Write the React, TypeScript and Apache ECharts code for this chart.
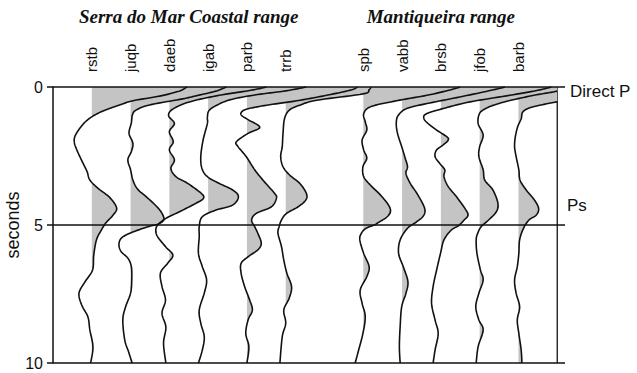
import { useEffect, useRef } from "react";
import * as echarts from "echarts";

// Station names and their column positions (column 7 is the gap between the two ranges)
const stations = ["rstb", "juqb", "daeb", "igab", "parb", "trrb", "spb", "vabb", "brsb", "jfob", "barb"];
const stationSlots = [1, 2, 3, 4, 5, 6, 8, 9, 10, 11, 12];

const rangeTitles = ["Serra do Mar Coastal range", "Mantiqueira range"];
const rangeCentres = [3.5, 10];

const timeTicks = [0, 5, 10];
const phaseLabels = ["Direct P", "Ps"];
const phaseTimes = [0.15, 4.3];

const FRAME_X = 13;
const X_MAX = 13.2;

// Receiver functions: [time (s), amplitude (column widths)]
const rstb: [number, number][] = [
  [0, 2.45], [0.15, 2.25], [0.33, 1.75], [0.5, 1.06], [0.69, 0.64], [0.87, 0.29], [1.08, 0], [1.34, -0.22],
  [1.74, -0.42], [2.0, -0.45], [2.3, -0.38], [2.75, -0.23], [3.07, -0.12], [3.37, -0.05], [3.67, 0.16],
  [4.0, 0.46], [4.38, 0.64], [4.64, 0.55], [4.93, 0.36], [5.2, 0.24], [5.54, 0.12], [6.1, 0.05], [6.63, 0.02],
  [7.07, -0.18], [7.47, -0.33], [7.9, -0.26], [8.33, -0.1], [8.8, -0.05], [9.42, 0.03], [10, -0.03],
];
const juqb: [number, number][] = [
  [0, 2.47], [0.15, 2.2], [0.3, 1.75], [0.43, 1.34], [0.65, 0.49], [0.83, 0.15], [1.0, 0.05], [1.3, 0.02],
  [1.68, -0.04], [2.04, 0.06], [2.34, 0.02], [2.64, -0.07], [3.0, 0], [3.37, 0.06], [3.7, 0.18], [3.97, 0.4],
  [4.4, 0.72], [4.7, 0.85], [4.85, 0.84], [4.97, 0.7], [5.08, 0.41], [5.3, -0.02], [5.48, -0.24], [5.72, -0.3],
  [5.97, -0.24], [6.2, -0.07], [6.51, 0.02], [7.0, 0.03], [7.47, 0], [7.97, -0.13], [8.44, -0.2], [9.17, -0.15],
  [9.6, -0.05], [10, 0.04],
];
const daeb: [number, number][] = [
  [0, 2.5], [0.12, 2.1], [0.3, 1.29], [0.54, 0.52], [0.8, 0.09], [1.04, -0.02], [1.32, 0.13], [1.62, 0],
  [1.98, 0.1], [2.28, 0], [2.64, 0.13], [2.95, 0.04], [3.25, 0.17], [3.49, 0.47], [3.85, 0.82], [4.03, 0.88],
  [4.21, 0.69], [4.52, 0.26], [4.76, -0.09], [5.0, -0.3], [5.2, -0.35], [5.43, -0.3], [5.8, -0.09], [6.09, 0.09],
  [6.38, -0.04], [6.74, -0.23], [7.23, -0.19], [7.72, -0.1], [8.2, -0.19], [8.7, -0.09], [9.28, -0.15], [10, -0.09],
];
const igab: [number, number][] = [
  [0, 2.53], [0.14, 2.0], [0.29, 1.2], [0.45, 0.6], [0.62, 0.28], [0.84, 0.03], [1.1, -0.02], [1.32, -0.02],
  [1.92, -0.13], [2.52, -0.19], [2.95, -0.16], [3.25, -0.02], [3.49, 0.28], [3.73, 0.63], [3.97, 0.78],
  [4.28, 0.63], [4.46, 0.2], [4.7, -0.15], [5.06, -0.23], [5.42, -0.23], [6.03, -0.25], [6.51, -0.15],
  [6.99, -0.04], [7.47, -0.1], [8.08, -0.23], [8.56, -0.19], [9.05, -0.1], [9.53, -0.15], [10, -0.25],
];
const parb: [number, number][] = [
  [0, 2.85], [0.1, 2.7], [0.25, 2.23], [0.48, 1.37], [0.66, 0.51], [0.8, 0], [0.93, -0.15], [1.05, -0.12],
  [1.2, 0.05], [1.46, 0.33], [1.68, 0.03], [1.98, -0.27], [2.16, -0.23], [2.52, -0.02], [3.0, 0.2], [3.37, 0.41],
  [3.85, 0.71], [4.03, 0.76], [4.34, 0.63], [4.58, 0.24], [4.82, 0.12], [5.06, 0.2], [5.3, 0.28], [5.66, 0.37],
  [5.9, 0.28], [6.15, 0.03], [6.39, -0.15], [6.75, -0.15], [7.23, -0.06], [7.72, 0.07], [8.08, 0.14],
  [8.44, 0.03], [8.93, -0.03], [9.41, 0.05], [10, 0],
];
const trrb: [number, number][] = [
  [0, 2.2], [0.1, 2.15], [0.25, 1.99], [0.48, 0.8], [0.65, 0.38], [0.83, 0.1], [1.14, -0.03], [1.68, -0.07],
  [2.16, -0.09], [2.52, -0.13], [2.89, -0.07], [3.19, 0.1], [3.49, 0.36], [3.85, 0.53], [4.09, 0.52],
  [4.34, 0.32], [4.58, 0.02], [4.82, -0.11], [5.06, -0.17], [5.3, -0.2], [5.78, -0.11], [6.27, -0.05],
  [6.75, 0.03], [7.23, 0.15], [7.65, 0.09], [8.08, -0.05], [8.56, 0], [9.05, -0.09], [10, -0.15],
];
const spb: [number, number][] = [
  [0, 2.5], [0.12, 2.2], [0.3, 1.64], [0.52, 0.78], [0.72, 0.18], [0.97, 0.01], [1.26, 0.05], [1.56, 0.09],
  [1.92, -0.03], [2.28, 0.01], [2.58, 0.09], [2.89, -0.01], [3.25, 0.01], [3.55, 0.18], [3.91, 0.44],
  [4.28, 0.65], [4.52, 0.7], [4.72, 0.6], [4.9, 0.4], [5.0, 0.28], [5.12, 0.07], [5.3, -0.05], [5.54, -0.09],
  [6.03, 0.01], [6.51, 0.15], [6.87, 0.09], [7.36, -0.08], [7.84, -0.03], [8.32, 0.05], [8.93, -0.01],
  [9.53, -0.12], [10, -0.21],
];
const vabb: [number, number][] = [
  [0, 2.65], [0.12, 2.3], [0.36, 1.49], [0.6, 0.64], [0.78, 0.12], [1.03, -0.1], [1.3, -0.15], [1.6, -0.13],
  [1.87, -0.08], [2.16, -0.01], [2.58, 0.08], [2.89, 0.14], [3.13, 0.1], [3.49, 0.21], [3.85, 0.38],
  [4.28, 0.55], [4.52, 0.59], [4.72, 0.52], [4.9, 0.36], [5.12, 0.14], [5.54, -0.05], [6.03, -0.09],
  [6.51, 0.03], [7.05, 0.15], [7.47, 0.1], [7.96, -0.01], [8.68, -0.05], [9.41, -0.07], [10, -0.05],
];
const brsb: [number, number][] = [
  [0, 2.85], [0.12, 2.5], [0.3, 1.78], [0.54, 0.75], [0.78, 0.06], [0.97, -0.37], [1.12, -0.44], [1.3, -0.35],
  [1.56, -0.11], [1.8, 0.15], [1.92, 0.19], [2.1, 0.06], [2.28, -0.11], [2.52, -0.15], [2.77, -0.03], [3.0, 0.1],
  [3.25, 0.08], [3.61, 0.19], [3.97, 0.4], [4.4, 0.62], [4.64, 0.7], [4.82, 0.6], [5.03, 0.45], [5.18, 0.27],
  [5.54, 0.08], [6.03, -0.01], [6.63, -0.11], [7.23, -0.2], [7.84, -0.24], [8.44, -0.15], [8.93, -0.07],
  [9.53, -0.15], [10, -0.2],
];
const jfob: [number, number][] = [
  [0, 2.4], [0.15, 2.0], [0.3, 1.4], [0.5, 0.75], [0.65, 0.38], [0.77, 0.17], [0.95, 0], [1.32, -0.04],
  [1.74, 0.09], [2.16, 0], [2.52, -0.02], [3.0, 0.09], [3.37, 0.13], [3.73, 0.34], [4.21, 0.47], [4.52, 0.43],
  [4.82, 0.23], [5.06, 0.04], [5.3, -0.05], [5.54, -0.09], [6.03, -0.07], [6.63, 0.02], [6.99, 0.09],
  [7.47, -0.02], [7.96, -0.1], [8.44, -0.02], [8.8, 0.09], [9.41, -0.04], [10, -0.09],
];
const barb: [number, number][] = [
  [0, 2.6], [0.2, 2.0], [0.4, 1.4], [0.54, 0.98], [0.64, 0.62], [0.76, 0.28], [0.91, 0.11], [1.15, 0.07],
  [1.44, -0.02], [1.8, -0.08], [2.16, -0.1], [2.52, -0.06], [3.0, 0.01], [3.37, 0.04], [3.73, 0.2], [4.09, 0.41],
  [4.4, 0.52], [4.64, 0.46], [4.82, 0.27], [5.12, 0.13], [5.54, 0.03], [6.03, 0.01], [6.51, -0.03], [6.99, -0.1],
  [7.47, -0.06], [7.96, 0.03], [8.44, -0.03], [8.93, 0.01], [9.53, 0.07], [10, 0.09],
];

const traces = [rstb, juqb, daeb, igab, parb, trrb, spb, vabb, brsb, jfob, barb];

const INK = "#111";
const FILL = "#c4c4c4";
const SANS = "Liberation Sans, Arial, sans-serif";

// Catmull-Rom curve through the pixel points of a trace
function smoothCurve(pts: number[][], steps = 10): number[][] {
  const out: number[][] = [];
  const n = pts.length;
  for (let i = 0; i < n - 1; i++) {
    const p0 = pts[Math.max(i - 1, 0)];
    const p1 = pts[i];
    const p2 = pts[i + 1];
    const p3 = pts[Math.min(i + 2, n - 1)];
    for (let k = 0; k < steps; k++) {
      const s = k / steps;
      const s2 = s * s;
      const s3 = s2 * s;
      const pt = [0, 1].map(
        (d) =>
          0.5 *
          (2 * p1[d] +
            (-p0[d] + p2[d]) * s +
            (2 * p0[d] - 5 * p1[d] + 4 * p2[d] - p3[d]) * s2 +
            (-p0[d] + 3 * p1[d] - 3 * p2[d] + p3[d]) * s3)
      );
      out.push(pt);
    }
  }
  out.push(pts[n - 1]);
  return out;
}

// Split a curve into the runs that lie left of the frame
function clipRuns(pts: number[][], cx: number): number[][][] {
  const runs: number[][][] = [];
  let cur: number[][] = [];
  for (let k = 0; k < pts.length; k++) {
    const p = pts[k];
    const inside = p[0] <= cx;
    if (k > 0) {
      const q = pts[k - 1];
      const qin = q[0] <= cx;
      if (inside !== qin) {
        const f = (cx - q[0]) / (p[0] - q[0]);
        const ip = [cx, q[1] + f * (p[1] - q[1])];
        if (qin) {
          cur.push(ip);
          if (cur.length > 1) runs.push(cur);
          cur = [];
        } else {
          cur = [ip];
        }
      }
    }
    if (inside) cur.push(p);
  }
  if (cur.length > 1) runs.push(cur);
  return runs;
}

function traceGeometry(api: any, idx: number) {
  const base = stationSlots[idx];
  const pix = traces[idx].map(([t, a]) => api.coord([base + a, t]));
  const curve = smoothCurve(pix);
  const bx = api.coord([base, 0])[0];
  const cx = api.coord([FRAME_X, 0])[0];
  return { curve, bx, cx };
}

export default function App() {
  const ref = useRef<HTMLDivElement>(null);

  useEffect(() => {
    if (!ref.current) return;
    const chart = echarts.init(ref.current, null, { renderer: "svg" });
    const items = stationSlots.map((s, i) => [s, i]);

    chart.setOption({
      animation: false,
      textStyle: { fontFamily: SANS },
      grid: { left: 53, right: 72, top: 87, bottom: 10, outerBoundsMode: "none", containLabel: false },
      xAxis: {
        type: "value",
        position: "top",
        min: 0,
        max: X_MAX,
        interval: 1,
        axisLine: { show: false },
        axisTick: { show: false },
        splitLine: { show: false },
        axisLabel: {
          rotate: 90,
          margin: 15,
          fontSize: 15,
          color: INK,
          fontFamily: SANS,
          showMaxLabel: false,
          formatter: (v: number) => {
            const i = stationSlots.indexOf(v);
            return i >= 0 ? stations[i] : "";
          },
        },
      },
      yAxis: {
        type: "value",
        min: 0,
        max: 10,
        interval: 5,
        inverse: true,
        name: "seconds",
        nameLocation: "middle",
        nameGap: 31,
        nameMoveOverlap: false,
        nameTextStyle: { fontSize: 18, color: INK, fontFamily: SANS },
        axisLine: { show: true, lineStyle: { color: INK, width: 1.5 } },
        axisTick: { show: true, length: 6, lineStyle: { color: INK, width: 1.5 } },
        axisLabel: { fontSize: 16, color: INK, margin: 10, fontFamily: SANS },
        splitLine: { show: false },
      },
      series: [
        {
          // right-hand frame, underneath the shading
          type: "line",
          z: 1,
          silent: true,
          symbol: "none",
          data: [
            [FRAME_X, 0],
            [FRAME_X, 10],
          ],
          lineStyle: { color: INK, width: 1.3 },
          markLine: {
            silent: true,
            symbol: "none",
            label: { show: false },
            lineStyle: { color: INK, width: 1.6, type: "solid" },
            data: timeTicks.map((t) => ({ yAxis: t })),
          },
        },
        {
          // positive lobes shaded grey
          type: "custom",
          z: 2,
          silent: true,
          data: items,
          encode: { x: 0, y: 1 },
          renderItem: (params: any, api: any) => {
            const { curve, bx, cx } = traceGeometry(api, params.dataIndex);
            const pts = curve.map(([x, y]) => [Math.min(Math.max(x, bx), cx), y]);
            const points = [[bx, curve[0][1]], ...pts, [bx, curve[curve.length - 1][1]]];
            return {
              type: "polygon",
              shape: { points },
              style: { fill: FILL, stroke: null },
            };
          },
        },
        {
          // the traces themselves
          type: "custom",
          z: 3,
          silent: true,
          data: items,
          encode: { x: 0, y: 1 },
          renderItem: (params: any, api: any) => {
            const { curve, cx } = traceGeometry(api, params.dataIndex);
            const runs = clipRuns(curve, cx);
            return {
              type: "group",
              children: runs.map((run) => ({
                type: "polyline",
                shape: { points: run },
                style: { stroke: INK, lineWidth: 1.6, fill: null },
              })),
            };
          },
        },
      ],
    });

    const px = (v: number) => chart.convertToPixel({ xAxisIndex: 0 }, v) as number;
    const py = (v: number) => chart.convertToPixel({ yAxisIndex: 0 }, v) as number;
    const lineEnd = px(X_MAX);

    chart.setOption({
      graphic: [
        ...rangeTitles.map((text, i) => ({
          type: "text",
          x: px(rangeCentres[i]),
          y: 16,
          style: {
            text,
            align: "center",
            verticalAlign: "middle",
            fontFamily: "Liberation Serif, Times New Roman, serif",
            fontStyle: "italic",
            fontWeight: "bold",
            fontSize: 19,
            fill: INK,
          },
        })),
        ...phaseLabels.map((text, i) => ({
          type: "text",
          x: lineEnd + (i === 0 ? 5 : 2),
          y: py(phaseTimes[i]),
          style: {
            text,
            align: "left",
            verticalAlign: "middle",
            fontFamily: SANS,
            fontSize: 17,
            fill: INK,
          },
        })),
      ],
    });

    return () => chart.dispose();
  }, []);

  return (
    <div
      ref={ref}
      style={{ position: "fixed", left: 0, top: 0, width: 637, height: 373, background: "#fff" }}
    />
  );
}
